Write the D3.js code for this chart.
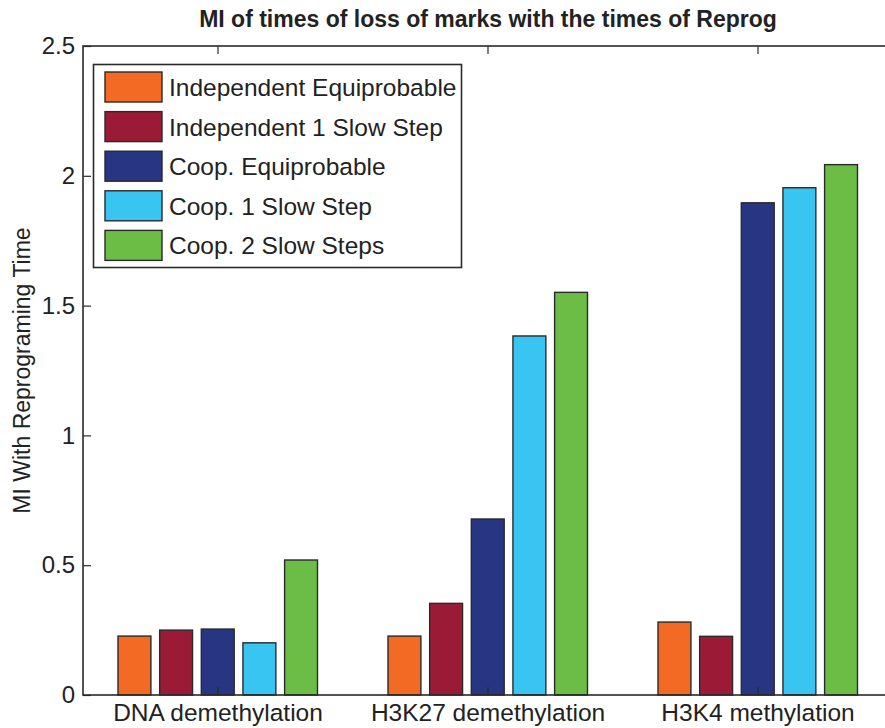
<!DOCTYPE html>
<html>
<head>
<meta charset="utf-8">
<script src="https://cdn.jsdelivr.net/npm/d3@7"></script>
<style>
  html, body { margin: 0; padding: 0; background: #fff; }
  svg { display: block; }
  text { font-family: "Liberation Sans", Arial, Helvetica, sans-serif; fill: #222; }
</style>
</head>
<body>
<svg id="chart" width="885" height="728"></svg>
<script>
// ---- data ----
const categories = ["DNA demethylation", "H3K27 demethylation", "H3K4 methylation"];
const seriesNames = ["Independent Equiprobable", "Independent 1 Slow Step", "Coop. Equiprobable", "Coop. 1 Slow Step", "Coop. 2 Slow Steps"];
const seriesColors = ["#f26a24", "#9b1b36", "#283583", "#38c5f2", "#6bbd45"];
const indepEquiprobable = [0.227, 0.227, 0.281];
const indep1SlowStep    = [0.250, 0.353, 0.226];
const coopEquiprobable  = [0.254, 0.678, 1.896];
const coop1SlowStep     = [0.201, 1.383, 1.954];
const coop2SlowSteps    = [0.520, 1.551, 2.043];
const yTicks = [0, 0.5, 1, 1.5, 2, 2.5];
const titleText = "MI of times of loss of marks with the times of Reprog";
const yLabelText = "MI With Reprograming Time";

const seriesValues = [indepEquiprobable, indep1SlowStep, coopEquiprobable, coop1SlowStep, coop2SlowSteps];

// ---- layout ----
const plotL = 83, plotR = 893, plotT = 46, plotB = 695;
const svg = d3.select("#chart");

const x0 = d3.scaleBand().domain(categories).range([plotL, plotR]).padding(0);
const x1 = d3.scaleBand().domain(seriesNames).range([-100, 99.5]).paddingInner(0.21).paddingOuter(0);
const y = d3.scaleLinear().domain([0, 2.5]).range([plotB, plotT]);

// bars
const groups = svg.append("g").selectAll("g")
  .data(categories)
  .join("g")
  .attr("transform", c => `translate(${x0(c) + x0.bandwidth() / 2},0)`);

groups.selectAll("rect")
  .data((c, ci) => seriesNames.map((s, si) => ({ s, si, v: seriesValues[si][ci] })))
  .join("rect")
  .attr("x", d => x1(d.s))
  .attr("width", x1.bandwidth())
  .attr("y", d => y(d.v))
  .attr("height", d => y(0) - y(d.v))
  .attr("fill", d => seriesColors[d.si])
  .attr("stroke", "#2a2a2a")
  .attr("stroke-width", 1.4);

// axes box
const tickLen = 8;
const axisColor = "#2a2a2a";
svg.append("rect")
  .attr("x", plotL).attr("y", plotT)
  .attr("width", plotR - plotL).attr("height", plotB - plotT)
  .attr("fill", "none").attr("stroke", axisColor).attr("stroke-width", 1.6);

// y axis (left) with inward ticks
const yAxisL = d3.axisLeft(y).tickValues(yTicks).tickFormat(d3.format("")).tickSizeInner(-tickLen).tickSizeOuter(0).tickPadding(8);
const gyl = svg.append("g").attr("transform", `translate(${plotL},0)`).call(yAxisL);
gyl.select(".domain").remove();
gyl.selectAll(".tick line").attr("stroke", axisColor).attr("stroke-width", 1.2);
gyl.selectAll(".tick text").attr("font-size", 24).attr("fill", "#222")
  .attr("font-family", "'Liberation Sans', Arial, sans-serif");

// y axis (right) ticks only
const yAxisR = d3.axisRight(y).tickValues(yTicks).tickFormat("").tickSizeInner(-tickLen).tickSizeOuter(0);
const gyr = svg.append("g").attr("transform", `translate(${plotR},0)`).call(yAxisR);
gyr.select(".domain").remove();
gyr.selectAll(".tick line").attr("stroke", axisColor).attr("stroke-width", 1.2);

// x axis (bottom) with labels
const xAxisB = d3.axisBottom(x0).tickSizeInner(-tickLen).tickSizeOuter(0).tickPadding(9);
const gxb = svg.append("g").attr("transform", `translate(0,${plotB})`).call(xAxisB);
gxb.select(".domain").remove();
gxb.selectAll(".tick line").attr("stroke", axisColor).attr("stroke-width", 1.2);
gxb.selectAll(".tick text").attr("font-size", 24.5).attr("fill", "#222")
  .attr("font-family", "'Liberation Sans', Arial, sans-serif");

// x axis (top) ticks only
const xAxisT = d3.axisTop(x0).tickFormat("").tickSizeInner(-tickLen).tickSizeOuter(0);
const gxt = svg.append("g").attr("transform", `translate(0,${plotT})`).call(xAxisT);
gxt.select(".domain").remove();
gxt.selectAll(".tick line").attr("stroke", axisColor).attr("stroke-width", 1.2);

// title
svg.append("text")
  .attr("x", 488).attr("y", 27)
  .attr("text-anchor", "middle")
  .attr("font-size", 23).attr("font-weight", "bold")
  .text(titleText);

// y label
svg.append("text")
  .attr("transform", `translate(30,${(plotT + plotB) / 2}) rotate(-90)`)
  .attr("text-anchor", "middle")
  .attr("font-size", 23)
  .text(yLabelText);

// legend
const lg = svg.append("g");
lg.append("rect")
  .attr("x", 93.5).attr("y", 64.5).attr("width", 368).attr("height", 203)
  .attr("fill", "#fff").attr("stroke", axisColor).attr("stroke-width", 1.6);
const rows = lg.selectAll("g.row").data(seriesNames).join("g")
  .attr("class", "row")
  .attr("transform", (d, i) => `translate(0,${87 + i * 39.6})`);
rows.append("rect")
  .attr("x", 105).attr("y", -15).attr("width", 57).attr("height", 30)
  .attr("fill", (d, i) => seriesColors[i])
  .attr("stroke", "#2a2a2a").attr("stroke-width", 1.4);
rows.append("text")
  .attr("x", 169).attr("y", 9)
  .attr("font-size", 24.5)
  .text(d => d);
</script>
</body>
</html>
